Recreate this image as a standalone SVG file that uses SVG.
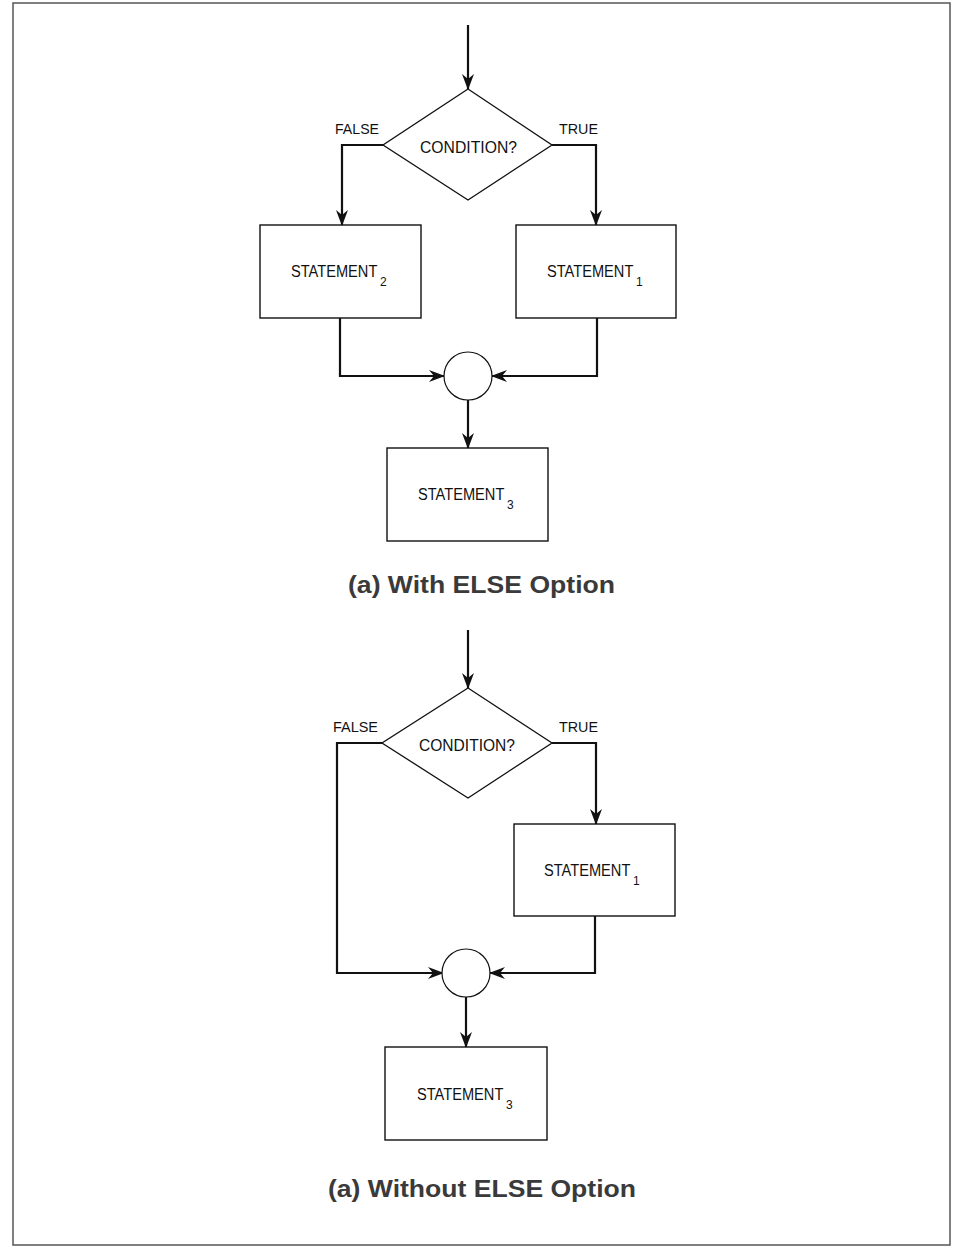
<svg xmlns="http://www.w3.org/2000/svg" width="953" height="1251" viewBox="0 0 953 1251">
<style>
.box{fill:#fff;stroke:#111;stroke-width:1.4}
.dia{fill:#fff;stroke:#111;stroke-width:1.3}
.cir{fill:#fff;stroke:#111;stroke-width:1.2}
.con{fill:none;stroke:#111;stroke-width:2.2}
.lbl{font-family:"Liberation Sans",Arial,sans-serif;font-size:17px;fill:#111}
.sm{font-size:15px}
.sub{font-family:"Liberation Sans",Arial,sans-serif;font-size:12px;fill:#111}
.cap{font-family:"Liberation Sans",Arial,sans-serif;font-size:23px;font-weight:bold;fill:#3a3a3a}
</style>
<defs>
<marker id="ah" viewBox="0 0 16 12" refX="15" refY="6" markerWidth="16" markerHeight="12" markerUnits="userSpaceOnUse" orient="auto">
<path d="M0,0 L16,6 L0,12 L5,6 Z" fill="#111"/>
</marker>
</defs>
<rect x="13" y="3" width="937" height="1242" fill="none" stroke="#555" stroke-width="1.5"/>

<g id="connectors">
<path class="con" d="M468,25 V89" marker-end="url(#ah)"/>
<path class="con" d="M383,145 H342 V225" marker-end="url(#ah)"/>
<path class="con" d="M552,145 H596 V225" marker-end="url(#ah)"/>
<path class="con" d="M340,318 V376 H444" marker-end="url(#ah)"/>
<path class="con" d="M597,318 V376 H492" marker-end="url(#ah)"/>
<path class="con" d="M468,400 V448" marker-end="url(#ah)"/>

<path class="con" d="M468,630 V688" marker-end="url(#ah)"/>
<path class="con" d="M382,743 H337 V973 H443" marker-end="url(#ah)"/>
<path class="con" d="M552,743 H596 V824" marker-end="url(#ah)"/>
<path class="con" d="M595,916 V973 H490" marker-end="url(#ah)"/>
<path class="con" d="M466,997 V1047" marker-end="url(#ah)"/>
</g>

<g id="cond1">
<polygon class="dia" points="468,89 552,145 468,200 383,145"/>
<text class="lbl" x="420" y="153" textLength="97" lengthAdjust="spacingAndGlyphs">CONDITION?</text>
</g>
<g id="false1"><text class="lbl sm" x="335" y="134" textLength="44" lengthAdjust="spacingAndGlyphs">FALSE</text></g>
<g id="true1"><text class="lbl sm" x="559" y="134" textLength="39" lengthAdjust="spacingAndGlyphs">TRUE</text></g>
<g id="stmt2">
<rect class="box" x="260" y="225" width="161" height="93"/>
<text class="lbl" transform="translate(291,277) scale(0.86,1)">STATEMENT</text>
<text class="sub" x="380" y="286">2</text>
</g>
<g id="stmt1a">
<rect class="box" x="516" y="225" width="160" height="93"/>
<text class="lbl" transform="translate(547,277) scale(0.86,1)">STATEMENT</text>
<text class="sub" x="636" y="286">1</text>
</g>
<g id="join1"><circle class="cir" cx="468" cy="376" r="24"/></g>
<g id="stmt3a">
<rect class="box" x="387" y="448" width="161" height="93"/>
<text class="lbl" transform="translate(418,500) scale(0.86,1)">STATEMENT</text>
<text class="sub" x="507" y="509">3</text>
</g>
<g id="cap1"><text class="cap" x="348" y="593" textLength="267" lengthAdjust="spacingAndGlyphs">(a) With ELSE Option</text></g>

<g id="cond2">
<polygon class="dia" points="468,688 552,743 468,798 382,743"/>
<text class="lbl" x="419" y="751" textLength="96" lengthAdjust="spacingAndGlyphs">CONDITION?</text>
</g>
<g id="false2"><text class="lbl sm" x="333" y="732" textLength="45" lengthAdjust="spacingAndGlyphs">FALSE</text></g>
<g id="true2"><text class="lbl sm" x="559" y="732" textLength="39" lengthAdjust="spacingAndGlyphs">TRUE</text></g>
<g id="stmt1b">
<rect class="box" x="514" y="824" width="161" height="92"/>
<text class="lbl" transform="translate(544,876) scale(0.86,1)">STATEMENT</text>
<text class="sub" x="633" y="885">1</text>
</g>
<g id="join2"><circle class="cir" cx="466" cy="973" r="24"/></g>
<g id="stmt3b">
<rect class="box" x="385" y="1047" width="162" height="93"/>
<text class="lbl" transform="translate(417,1100) scale(0.86,1)">STATEMENT</text>
<text class="sub" x="506" y="1109">3</text>
</g>
<g id="cap2"><text class="cap" x="328" y="1197" textLength="308" lengthAdjust="spacingAndGlyphs">(a) Without ELSE Option</text></g>
</svg>
